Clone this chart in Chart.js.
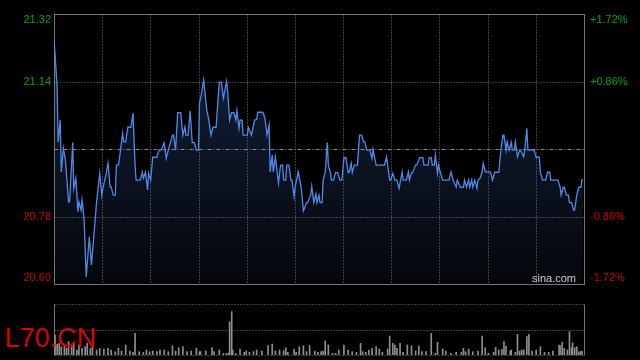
<!DOCTYPE html>
<html>
<head>
<meta charset="utf-8">
<script src="https://cdn.jsdelivr.net/npm/chart.js@4.4.0/dist/chart.umd.min.js"></script>
<style>
html, body { margin: 0; padding: 0; background: #000; }
#wrap { position: relative; width: 640px; height: 360px; overflow: hidden; background: #000; }
canvas { position: absolute; left: 0; top: 0; }
#sina { position: absolute; left: 532px; top: 273px; font: 11px/11px "Liberation Sans", Arial, sans-serif; color: #cfcfcf; }
#code { position: absolute; left: 5px; top: 325px; font: 27px/27px "Liberation Sans", Arial, sans-serif; color: #e00000; }
</style>
</head>
<body>
<div id="wrap">
  <canvas id="priceChart" width="640" height="360"></canvas>
  <canvas id="volChart" width="640" height="360"></canvas>
  <div id="sina">sina.com</div>
  <div id="code">L70.CN</div>
</div>
<script>
// Datos (minutos desde la apertura)
const sessionMinutes = 510;
const prevClose = 20.96;
const priceTicks = [21.32, 21.14, 20.96, 20.78, 20.60];
const leftLabels = ['21.32', '21.14', '', '20.78', '20.60'];
const rightLabels = ['+1.72%', '+0.86%', '', '-0.86%', '-1.72%'];

const times = [
  0, 3, 4, 6, 7, 9, 11, 14, 15, 18,
  19, 21, 23, 24, 26, 27, 29, 31, 34, 36,
  38, 41, 44, 46, 47, 50, 52, 54, 55, 57,
  59, 60, 62, 63, 66, 67, 69, 71, 74, 76,
  78, 79, 83, 85, 86, 88, 90, 91, 93, 95,
  99, 101, 103, 106, 108, 110, 114, 115, 117, 119,
  122, 124, 126, 127, 129, 131, 133, 135, 137, 139,
  140, 142, 144, 147, 149, 151, 153, 156, 158, 159,
  161, 163, 166, 167, 169, 171, 173, 175, 176, 178,
  179, 181, 182, 186, 187, 190, 193, 195, 196, 201,
  203, 205, 207, 208, 210, 211, 213, 216, 218, 220,
  221, 223, 224, 226, 228, 229, 231, 232, 235, 238,
  240, 243, 244, 247, 248, 250, 252, 253, 255, 256,
  258, 259, 261, 263, 264, 266, 267, 269, 271, 273,
  275, 277, 279, 281, 283, 284, 286, 287, 289, 292,
  294, 296, 298, 299, 301, 304, 306, 307, 310, 318,
  320, 323, 324, 326, 328, 330, 332, 335, 336, 339,
  341, 342, 344, 345, 348, 349, 352, 355, 356, 360,
  361, 363, 364, 366, 367, 369, 370, 372, 374, 380,
  382, 384, 387, 388, 391, 394, 395, 397, 399, 400,
  402, 403, 405, 407, 408, 410, 412, 413, 415, 420,
  422, 424, 428, 430, 432, 433, 435, 436, 438, 440,
  441, 443, 444, 446, 448, 449, 452, 453, 455, 456,
  462, 464, 467, 468, 470, 473, 475, 477, 478, 485,
  487, 488, 490, 491, 493, 495, 496, 498, 500, 501,
  503, 505, 507, 508, 509
];

const prices = [
  21.255, 21.126, 20.979, 21.037, 20.899, 20.962, 20.931, 20.819, 20.819, 20.977,
  20.855, 20.882, 20.793, 20.819, 20.797, 20.824, 20.771, 20.619, 20.726, 20.651,
  20.717, 20.819, 20.895, 20.837, 20.855, 20.891, 20.922, 20.859, 20.859, 20.837,
  20.837, 20.917, 20.917, 20.935, 21.002, 20.979, 20.979, 21.018, 21.018, 21.055,
  20.917, 20.877, 20.877, 20.898, 20.882, 20.898, 20.851, 20.895, 20.877, 20.938,
  20.938, 20.957, 20.957, 20.977, 20.935, 20.957, 20.997, 20.997, 20.957, 21.057,
  21.057, 20.997, 21.019, 20.997, 20.997, 21.062, 20.977, 20.977, 20.957, 20.957,
  21.082, 21.109, 21.144, 21.064, 21.037, 20.997, 21.018, 21.018, 21.099, 21.138,
  21.138, 21.095, 21.141, 21.117, 21.037, 21.057, 21.057, 21.037, 21.062, 21.015,
  21.037, 21.037, 20.997, 20.997, 21.018, 20.997, 21.037, 21.039, 21.058, 21.058,
  21.042, 20.997, 21.024, 20.899, 20.944, 20.899, 20.939, 20.869, 20.917, 20.917,
  20.877, 20.877, 20.917, 20.917, 20.877, 20.877, 20.833, 20.859, 20.899, 20.855,
  20.795, 20.817, 20.817, 20.837, 20.861, 20.817, 20.840, 20.817, 20.837, 20.817,
  20.817, 20.877, 20.897, 20.977, 20.917, 20.897, 20.877, 20.877, 20.897, 20.897,
  20.877, 20.877, 20.937, 20.937, 20.897, 20.897, 20.922, 20.897, 20.917, 20.917,
  20.997, 20.997, 20.979, 20.979, 20.957, 20.957, 20.935, 20.959, 20.917, 20.917,
  20.939, 20.877, 20.877, 20.895, 20.877, 20.877, 20.855, 20.899, 20.877, 20.877,
  20.899, 20.877, 20.897, 20.897, 20.917, 20.917, 20.937, 20.937, 20.917, 20.917,
  20.937, 20.937, 20.917, 20.917, 20.944, 20.895, 20.917, 20.895, 20.877, 20.877,
  20.899, 20.877, 20.858, 20.877, 20.858, 20.858, 20.877, 20.858, 20.877, 20.858,
  20.877, 20.858, 20.877, 20.855, 20.877, 20.882, 20.899, 20.922, 20.899, 20.899,
  20.877, 20.898, 20.898, 20.957, 20.997, 20.997, 20.957, 20.979, 20.957, 20.978,
  20.957, 20.957, 20.979, 20.939, 20.957, 20.957, 20.939, 20.957, 21.015, 20.957,
  20.957, 20.938, 20.938, 20.899, 20.877, 20.877, 20.898, 20.898, 20.877, 20.877,
  20.858, 20.837, 20.858, 20.858, 20.837, 20.837, 20.817, 20.817, 20.797, 20.797,
  20.837, 20.858, 20.858, 20.877, 20.877
];

const volMax = 5100;
const volTimes = [
  1, 3, 5, 7, 10, 12, 14, 17, 19, 22, 24, 27, 30, 32, 35, 37, 41, 44, 48, 52,
  55, 59, 62, 65, 69, 73, 76, 78, 82, 86, 89, 92, 95, 99, 102, 106, 110, 114, 117, 120,
  124, 128, 132, 137, 140, 141, 146, 152, 154, 159, 163, 166, 168, 169, 171, 172, 175, 179, 183, 185,
  188, 192, 195, 200, 206, 210, 213, 217, 221, 223, 225, 231, 233, 236, 240, 243, 246, 251, 254, 257,
  259, 261, 264, 268, 271, 274, 279, 283, 287, 291, 295, 297, 300, 303, 306, 310, 313, 316, 321, 323,
  326, 328, 330, 333, 336, 340, 344, 348, 351, 354, 358, 363, 367, 369, 374, 377, 382, 387, 392, 394,
  396, 399, 403, 408, 412, 415, 418, 423, 425, 428, 431, 433, 435, 439, 440, 444, 446, 448, 450, 452,
  455, 457, 460, 464, 468, 472, 476, 480, 486, 487, 489, 491, 494, 496, 498, 499, 501, 503, 505, 507,
  508
];
const volumes = [
  2000, 1070, 1170, 830, 1000, 670, 1330, 830, 1170, 500, 1000, 670, 830, 1170, 670, 830, 500, 670, 600, 670,
  500, 330, 670, 400, 1000, 400, 270, 2170, 330, 270, 500, 330, 400, 330, 500, 500, 330, 900, 400, 730,
  830, 330, 400, 670, 330, 330, 400, 730, 330, 500, 170, 170, 170, 3330, 4330, 500, 170, 600, 270, 400,
  270, 330, 500, 400, 930, 1100, 400, 500, 430, 730, 270, 600, 270, 830, 930, 330, 930, 400, 270, 330,
  400, 1400, 1000, 170, 170, 500, 1000, 500, 330, 270, 1170, 330, 270, 500, 670, 830, 600, 270, 600, 1900,
  1170, 1000, 670, 1170, 270, 1000, 900, 400, 900, 330, 330, 2170, 170, 1270, 600, 400, 170, 270, 270, 670,
  330, 600, 330, 400, 1900, 730, 170, 270, 770, 500, 570, 1330, 900, 400, 500, 270, 2070, 400, 500, 500,
  1830, 2070, 400, 500, 830, 270, 270, 400, 1000, 930, 1270, 670, 500, 2330, 730, 1230, 730, 830, 330, 330,
  400
];

function hLine(ctx, x1, x2, y) {
  ctx.beginPath(); ctx.moveTo(x1, y); ctx.lineTo(x2, y); ctx.stroke();
}
function vLine(ctx, x, y1, y2) {
  ctx.beginPath(); ctx.moveTo(x, y1); ctx.lineTo(x, y2); ctx.stroke();
}

// Rejilla del gráfico de precios
const priceGrid = {
  id: 'priceGrid',
  beforeDatasetsDraw(chart) {
    const { ctx, chartArea: a, scales: { x, y } } = chart;
    const L = Math.round(a.left) + 0.5, R = Math.round(a.right) + 0.5;
    const T = Math.round(a.top) + 0.5, B = Math.round(a.bottom) + 0.5;
    ctx.save();
    ctx.lineWidth = 1;
    ctx.strokeStyle = '#7c7c7c';
    ctx.setLineDash([1, 2]);
    for (let i = 1; i < 11; i++) {
      const px = Math.round(x.getPixelForValue(i * sessionMinutes / 11)) + 0.5;
      vLine(ctx, px, T, B);
    }
    priceTicks.forEach((v, i) => {
      if (i === 0 || i === priceTicks.length - 1 || v === prevClose) return;
      hLine(ctx, L, R, Math.round(y.getPixelForValue(v)) + 0.5);
    });
    ctx.strokeStyle = '#8a8a8a';
    ctx.setLineDash([4, 2, 1, 2]);
    hLine(ctx, L, R, Math.round(y.getPixelForValue(prevClose)) + 0.5);
    ctx.setLineDash([]);
    ctx.strokeStyle = '#777';
    ctx.strokeRect(L, T, R - L, B - T);
    ctx.restore();
  },
  afterDraw(chart) {
    const { ctx, chartArea: a, scales: { y } } = chart;
    ctx.save();
    ctx.font = '11px "Liberation Sans", Arial, sans-serif';
    ctx.textBaseline = 'middle';
    priceTicks.forEach((v, i) => {
      if (!leftLabels[i]) return;
      let py = y.getPixelForValue(v);
      py = Math.min(Math.max(py, a.top + 6), a.bottom - 6);
      ctx.fillStyle = v > prevClose ? '#00a800' : '#d00000';
      ctx.textAlign = 'right';
      ctx.fillText(leftLabels[i], a.left - 3, py);
      ctx.textAlign = 'left';
      ctx.fillText(rightLabels[i], a.right + 6, py);
    });
    ctx.restore();
  }
};

// Rejilla del volumen
const volGrid = {
  id: 'volGrid',
  beforeDatasetsDraw(chart) {
    const { ctx, chartArea: a } = chart;
    const L = Math.round(a.left) + 0.5, R = Math.round(a.right) + 0.5;
    const T = Math.round(a.top) + 0.5, B = Math.round(a.bottom) + 0.5;
    ctx.save();
    ctx.lineWidth = 1;
    ctx.strokeStyle = '#7c7c7c';
    ctx.setLineDash([1, 2]);
    hLine(ctx, L, R, T);
    hLine(ctx, L, R, Math.round((a.top + a.bottom) / 2) + 0.5);
    hLine(ctx, L, R, B);
    ctx.setLineDash([]);
    ctx.strokeStyle = '#777';
    vLine(ctx, L, T, B);
    vLine(ctx, R, T, B);
    ctx.restore();
  }
};

new Chart(document.getElementById('priceChart'), {
  type: 'line',
  data: {
    datasets: [{
      data: times.map((t, i) => ({ x: t, y: prices[i] })),
      borderColor: '#4f89e8',
      borderWidth: 1.3,
      pointRadius: 0,
      tension: 0,
      fill: 'start',
      backgroundColor: (c) => {
        const a = c.chart.chartArea;
        if (!a) return 'transparent';
        const g = c.chart.ctx.createLinearGradient(0, a.top, 0, a.bottom);
        g.addColorStop(0, 'rgb(22,36,64)');
        g.addColorStop(1, 'rgb(4,6,10)');
        return g;
      }
    }]
  },
  options: {
    responsive: false,
    animation: false,
    devicePixelRatio: 1,
    layout: { padding: { left: 54, right: 56, top: 14, bottom: 76 } },
    scales: {
      x: { type: 'linear', min: 0, max: sessionMinutes, display: false },
      y: { min: priceTicks[priceTicks.length - 1], max: priceTicks[0], display: false }
    },
    plugins: {
      legend: { display: false },
      tooltip: { enabled: false },
      filler: { drawTime: 'beforeDatasetsDraw' }
    }
  },
  plugins: [priceGrid]
});

new Chart(document.getElementById('volChart'), {
  type: 'bar',
  data: {
    datasets: [{
      data: volTimes.map((t, i) => ({ x: t, y: volumes[i] })),
      backgroundColor: '#8e8e8e',
      barThickness: 1,
      borderWidth: 0
    }]
  },
  options: {
    responsive: false,
    animation: false,
    devicePixelRatio: 1,
    layout: { padding: { left: 54, right: 56, top: 304, bottom: 5 } },
    scales: {
      x: { type: 'linear', min: 0, max: sessionMinutes, offset: false, display: false },
      y: { min: 0, max: volMax, display: false }
    },
    plugins: {
      legend: { display: false },
      tooltip: { enabled: false }
    }
  },
  plugins: [volGrid]
});
</script>
</body>
</html>
